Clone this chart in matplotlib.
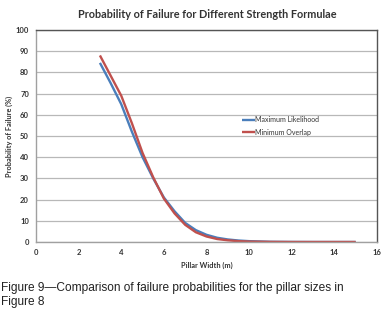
import matplotlib
matplotlib.use("Agg")
import matplotlib.pyplot as plt

widths = [3, 3.5, 4, 4.5, 5, 5.5, 6, 6.5, 7, 7.5, 8, 8.5, 9, 9.5, 10, 11, 12, 13, 14, 15]
max_likelihood = [84.5, 75, 65, 52, 40, 30, 21, 14.5, 9, 5.6, 3.4, 2.0, 1.2, 0.7, 0.4, 0.1, 0.03, 0, 0, 0]
min_overlap = [88, 78.5, 69, 56, 42, 30.5, 20.5, 13.5, 8.1, 4.6, 2.6, 1.4, 0.8, 0.4, 0.2, 0.05, 0, 0, 0, 0]

title = "Probability of Failure for Different Strength Formulae"
xlabel = "Pillar Width (m)"
ylabel = "Probability of Failure (%)"
series_names = ["Maximum Likelihood", "Minimum Overlap"]
caption = "Figure 9\u2014Comparison of failure probabilities for the pillar sizes in\nFigure 8"

W, H = 392, 328
fig = plt.figure(figsize=(W / 100, H / 100), dpi=100)
fig.patch.set_facecolor("white")

left, right, top, bottom = 36, 377, 30, 242
ax = fig.add_axes([left / W, 1 - bottom / H, (right - left) / W, (bottom - top) / H])

ax.plot(widths, max_likelihood, color="#4a7ebb", lw=1.7, label=series_names[0], solid_capstyle="butt")
ax.plot(widths, min_overlap, color="#c0504d", lw=1.7, label=series_names[1], solid_capstyle="butt")

ax.set_xlim(0, 16)
ax.set_ylim(0, 100)
ax.set_xticks(range(0, 17, 2))
ax.set_yticks(range(0, 101, 10))
ax.yaxis.grid(True, color="#b8b8b8", lw=0.9)
ax.set_axisbelow(True)
ax.tick_params(length=0, pad=5, labelsize=5.5, colors="#333333")
for lab in ax.get_xticklabels() + ax.get_yticklabels():
    lab.set_fontweight("bold")
    lab.set_family("Lato")

ax.spines["left"].set_color("#a0a0a0")
ax.spines["bottom"].set_color("#a0a0a0")
ax.spines["top"].set_color("#555555")
ax.spines["right"].set_color("#555555")
for s in ax.spines.values():
    s.set_linewidth(1.0)

fig.text(207 / W, 1 - 14 / H, title, ha="center", va="center", fontsize=7.8,
         fontweight="bold", family="Lato", color="#333333")
fig.text(207 / W, 1 - 265 / H, xlabel, ha="center", va="center", fontsize=5.3,
         fontweight="bold", family="Lato", color="#333333")
fig.text(9 / W, 1 - 136 / H, ylabel, ha="center", va="center", fontsize=5.3,
         fontweight="bold", family="Lato", color="#333333", rotation=90)

leg = ax.legend(loc="upper left", bbox_to_anchor=((242 - left) / (right - left), 1 - (116 - top) / (bottom - top)),
                frameon=False, fontsize=5, handlelength=1.8, handletextpad=0.1,
                labelspacing=0.8, borderaxespad=0, borderpad=0)
for t in leg.get_texts():
    t.set_family("Lato")
    t.set_color("#333333")

fig.text(1 / W, 1 - 295 / H, caption, ha="left", va="center", fontsize=8.6,
         family="Liberation Sans", color="#222222", linespacing=1.2)

fig.savefig("out.png", dpi=100, facecolor="white")
